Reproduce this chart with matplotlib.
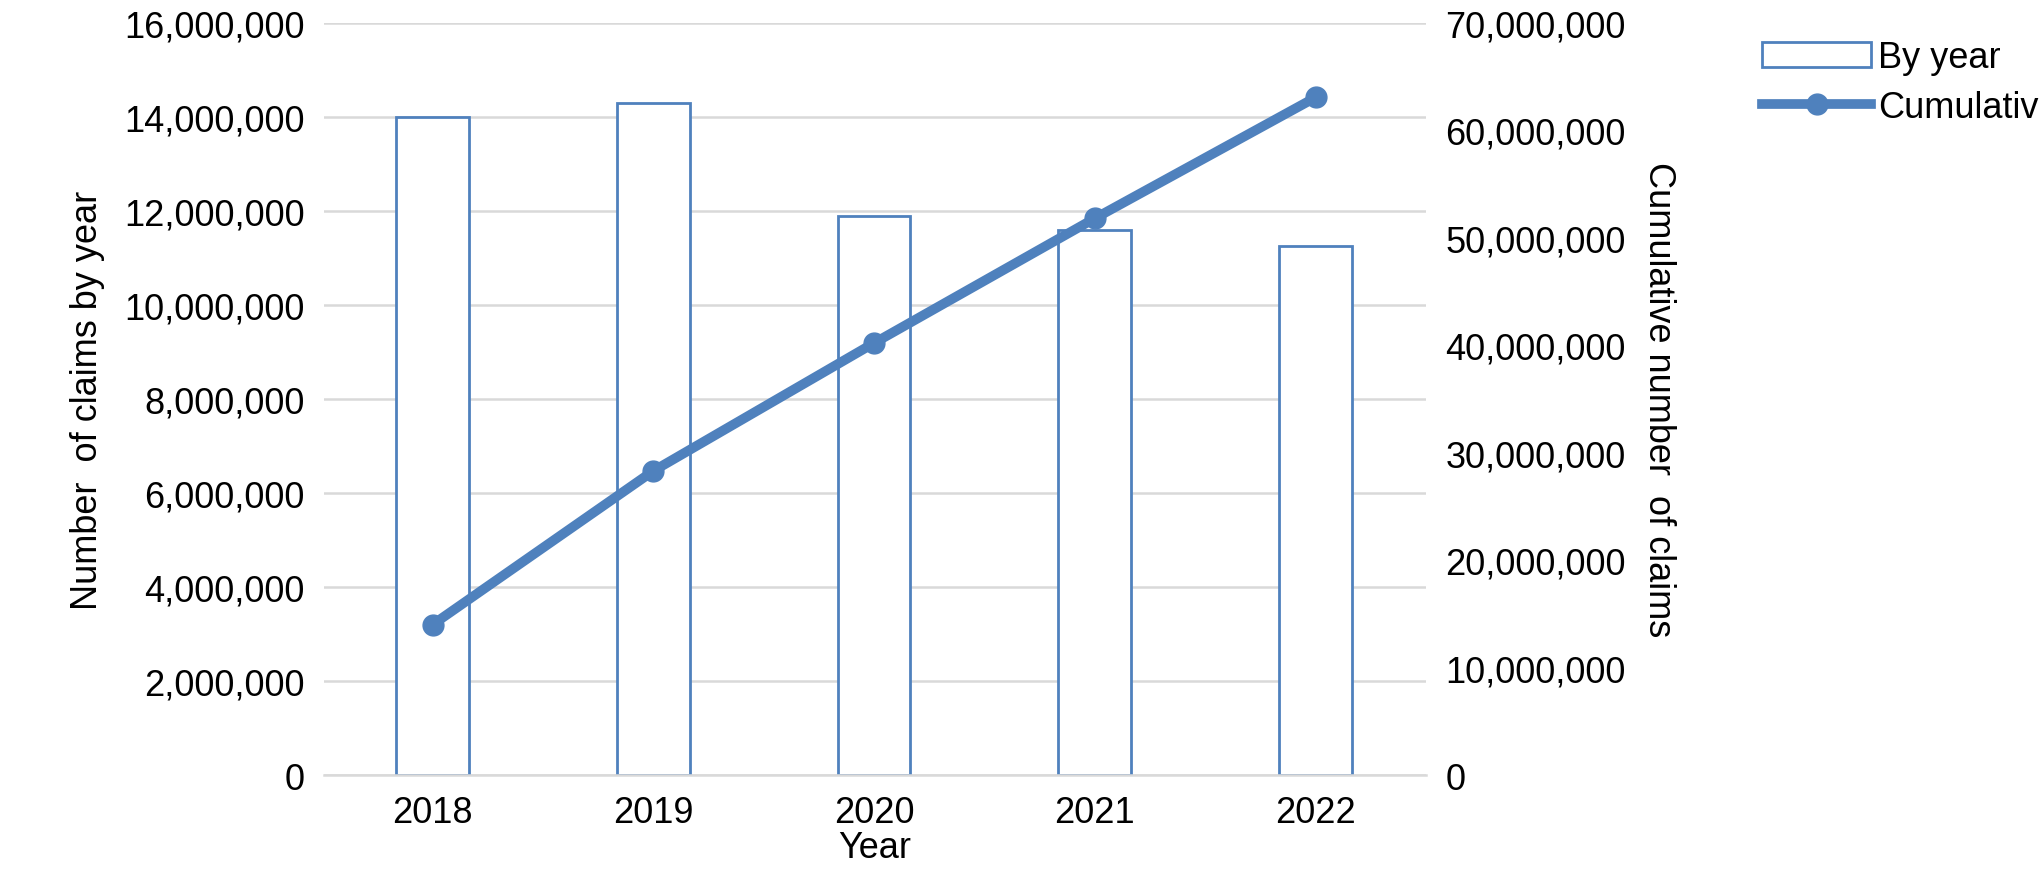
import numpy as np
import matplotlib.pyplot as plt
from matplotlib.ticker import FuncFormatter

years = ['2018', '2019', '2020', '2021', '2022']
by_year = [14000000, 14300000, 11900000, 11600000, 11250000]
cumulative = [14000000, 28300000, 40200000, 51800000, 63050000]

plt.rcParams['font.family'] = ['Liberation Sans', 'DejaVu Sans']
plt.rcParams['font.size'] = 26

blue = '#4f81bd'
fig = plt.figure(figsize=(20.4, 8.78), dpi=100)
ax = fig.add_axes([0.159, 0.116, 0.54, 0.857])
ax2 = ax.twinx()

x = np.arange(len(years))
b = ax.bar(x, by_year, width=0.33, facecolor='white', edgecolor=blue, lw=2, label='By year', zorder=2)
l, = ax2.plot(x, cumulative, '-o', color=blue, lw=7, ms=15, label='Cumulative', zorder=3)

fmt = FuncFormatter(lambda v, p: f'{int(v):,}')
ax.set_ylim(0, 16000000)
ax.set_yticks(np.arange(0, 16000001, 2000000))
ax.yaxis.set_major_formatter(fmt)
ax2.set_ylim(0, 70000000)
ax2.set_yticks(np.arange(0, 70000001, 10000000))
ax2.yaxis.set_major_formatter(fmt)
ax.set_xlim(-0.49, 4.5)
ax.set_xticks(x)
ax.set_xticklabels(years)

ax.grid(axis='y', color='#d9d9d9', lw=1.8, zorder=0)
ax.set_axisbelow(True)
for a in (ax, ax2):
    for s in ('top', 'left', 'right'):
        a.spines[s].set_visible(False)
    a.tick_params(length=0, pad=14)
ax.spines['bottom'].set_color('#d9d9d9')
ax.spines['bottom'].set_linewidth(1.8)
ax2.spines['bottom'].set_visible(False)

ax.set_xlabel('Year', labelpad=0)
ax.set_ylabel('Number  of claims by year', labelpad=14)
ax2.set_ylabel('Cumulative number  of claims', rotation=270, labelpad=36)

fig.legend([b, l], ['By year', 'Cumulative'], loc='upper left',
           bbox_to_anchor=(0.848, 0.99), frameon=False, handlelength=3.0,
           handletextpad=0.2, labelspacing=0.4)

fig.savefig('out.png')
